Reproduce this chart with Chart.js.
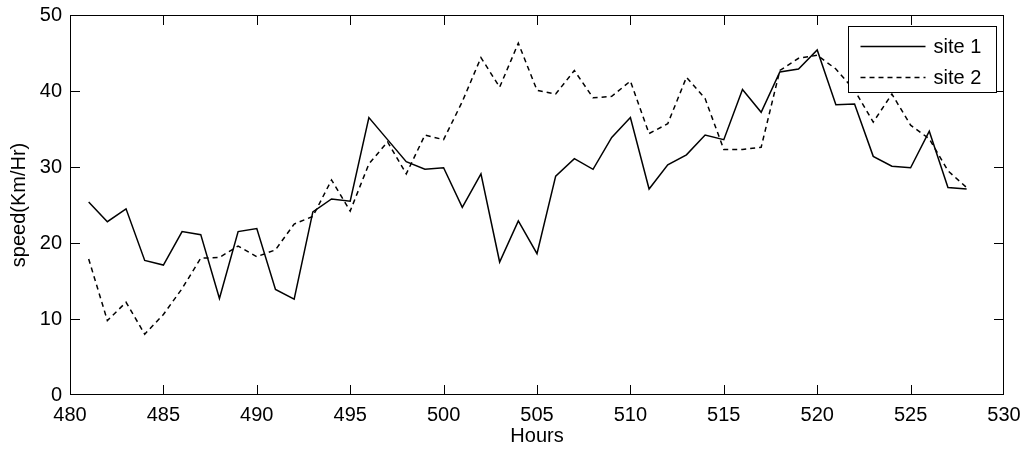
<!DOCTYPE html>
<html>
<head>
<meta charset="utf-8">
<script src="https://cdn.jsdelivr.net/npm/chart.js@4.4.1/dist/chart.umd.min.js"></script>
<style>
  html, body { margin: 0; padding: 0; background: #fff; }
  #wrap { width: 1024px; height: 452px; position: relative; }
</style>
</head>
<body>
<div id="wrap"><canvas id="c" width="1024" height="452"></canvas></div>
<script>
const hours = [481,482,483,484,485,486,487,488,489,490,491,492,493,494,495,496,497,498,499,500,
  501,502,503,504,505,506,507,508,509,510,511,512,513,514,515,516,517,518,519,520,
  521,522,523,524,525,526,527,528];
const site1 = [25.4,22.8,24.5,17.7,17.1,21.5,21.1,12.7,21.5,21.9,13.9,12.6,24.1,25.8,25.5,36.5,33.6,30.7,29.7,29.9,
  24.7,29.1,17.5,22.9,18.6,28.8,31.1,29.7,33.9,36.5,27.1,30.3,31.6,34.2,33.6,40.2,37.2,42.5,42.9,45.4,
  38.2,38.3,31.4,30.1,29.9,34.7,27.3,27.1];
const site2 = [17.9,9.8,12.2,8.0,10.6,14.0,18.0,18.1,19.6,18.2,19.1,22.5,23.5,28.3,24.2,30.4,33.3,29.1,34.2,33.6,
  38.6,44.4,40.5,46.3,40.1,39.6,42.7,39.1,39.3,41.3,34.4,35.7,41.8,39.0,32.3,32.3,32.6,42.7,44.3,44.7,
  42.9,40.1,35.9,39.6,35.5,33.7,29.5,27.3];
const seriesNames = ['site 1', 'site 2'];
const xTicksStep = 5;
const yTicksStep = 10;
const xRange = [480, 530];
const yRange = [0, 50];
const xTitle = 'Hours';
const yTitle = 'speed(Km/Hr)';

const FONT = '"Liberation Sans", Arial, Helvetica, sans-serif';
const dashPattern = [5, 4];
const LINE_W = 1.5;

const toPoints = (xs, ys) => xs.map((x, i) => ({x: x, y: ys[i]}));

const frameAndLegend = {
  id: 'frameAndLegend',
  afterDatasetsDraw(chart) {
    const {ctx, chartArea: a, scales} = chart;
    ctx.save();
    ctx.strokeStyle = '#000';
    ctx.lineWidth = 1;
    ctx.strokeRect(Math.round(a.left) + 0.5, Math.round(a.top) + 0.5,
      Math.round(a.right - a.left) - 1, Math.round(a.bottom - a.top) - 1);
    const tl = 10;
    ctx.beginPath();
    scales.x.ticks.forEach(t => {
      const px = Math.round(scales.x.getPixelForValue(t.value)) + 0.5;
      if (px <= a.left + 1 || px >= a.right - 1) return;
      ctx.moveTo(px, a.bottom); ctx.lineTo(px, a.bottom - tl);
      ctx.moveTo(px, a.top); ctx.lineTo(px, a.top + tl);
    });
    scales.y.ticks.forEach(t => {
      const py = Math.round(scales.y.getPixelForValue(t.value)) + 0.5;
      if (py <= a.top + 1 || py >= a.bottom - 1) return;
      ctx.moveTo(a.left, py); ctx.lineTo(a.left + tl, py);
      ctx.moveTo(a.right, py); ctx.lineTo(a.right - tl, py);
    });
    ctx.stroke();

    // legend box
    const bw = 148, bh = 66;
    const bx = Math.round(a.right - 8 - bw) + 0.5;
    const by = Math.round(a.top + 11) + 0.5;
    ctx.fillStyle = '#fff';
    ctx.fillRect(bx, by, bw, bh);
    ctx.strokeRect(bx, by, bw, bh);
    ctx.font = '20px ' + FONT;
    ctx.textBaseline = 'middle';
    ctx.textAlign = 'left';
    chart.data.datasets.forEach((ds, i) => {
      const ly = by + 20 + i * 31;
      ctx.beginPath();
      ctx.lineWidth = LINE_W;
      ctx.setLineDash(ds.borderDash || []);
      ctx.moveTo(bx + 12, ly); ctx.lineTo(bx + 77, ly);
      ctx.stroke();
      ctx.setLineDash([]);
      ctx.fillStyle = '#000';
      ctx.fillText(ds.label, bx + 85, ly + 1);
    });
    ctx.restore();
  }
};

function zeroPad(s) { s.paddingTop = 0; s.paddingBottom = 0; s.paddingLeft = 0; s.paddingRight = 0; }

new Chart(document.getElementById('c'), {
  type: 'line',
  data: {
    datasets: [
      { label: seriesNames[0], data: toPoints(hours, site1), borderColor: '#000', borderWidth: LINE_W,
        pointRadius: 0, tension: 0, fill: false },
      { label: seriesNames[1], data: toPoints(hours, site2), borderColor: '#000', borderWidth: LINE_W,
        borderDash: dashPattern, pointRadius: 0, tension: 0, fill: false }
    ]
  },
  options: {
    responsive: false,
    animation: false,
    devicePixelRatio: 1,
    layout: { padding: { top: 15, right: 20, left: 0, bottom: 0 } },
    plugins: { legend: { display: false }, tooltip: { enabled: false } },
    scales: {
      x: {
        type: 'linear', min: xRange[0], max: xRange[1],
        grid: { display: false, drawTicks: false },
        border: { display: false },
        ticks: { stepSize: xTicksStep, color: '#000', padding: 8, maxRotation: 0,
          font: { family: FONT, size: 20, lineHeight: 1.2 } },
        title: { display: true, text: xTitle, color: '#000',
          font: { family: FONT, size: 20, lineHeight: 1.2 }, padding: { top: 0, bottom: 4 } },
        afterFit(s) { s.height = 57; zeroPad(s); }
      },
      y: {
        min: yRange[0], max: yRange[1],
        grid: { display: false, drawTicks: false },
        border: { display: false },
        ticks: { stepSize: yTicksStep, color: '#000', padding: 8,
          font: { family: FONT, size: 20, lineHeight: 1.2 } },
        title: { display: true, text: yTitle, color: '#000',
          font: { family: FONT, size: 20, lineHeight: 1.2 }, padding: { top: 7, bottom: 0 } },
        afterFit(s) { s.width = 70; zeroPad(s); }
      }
    }
  },
  plugins: [frameAndLegend]
});
</script>
</body>
</html>
